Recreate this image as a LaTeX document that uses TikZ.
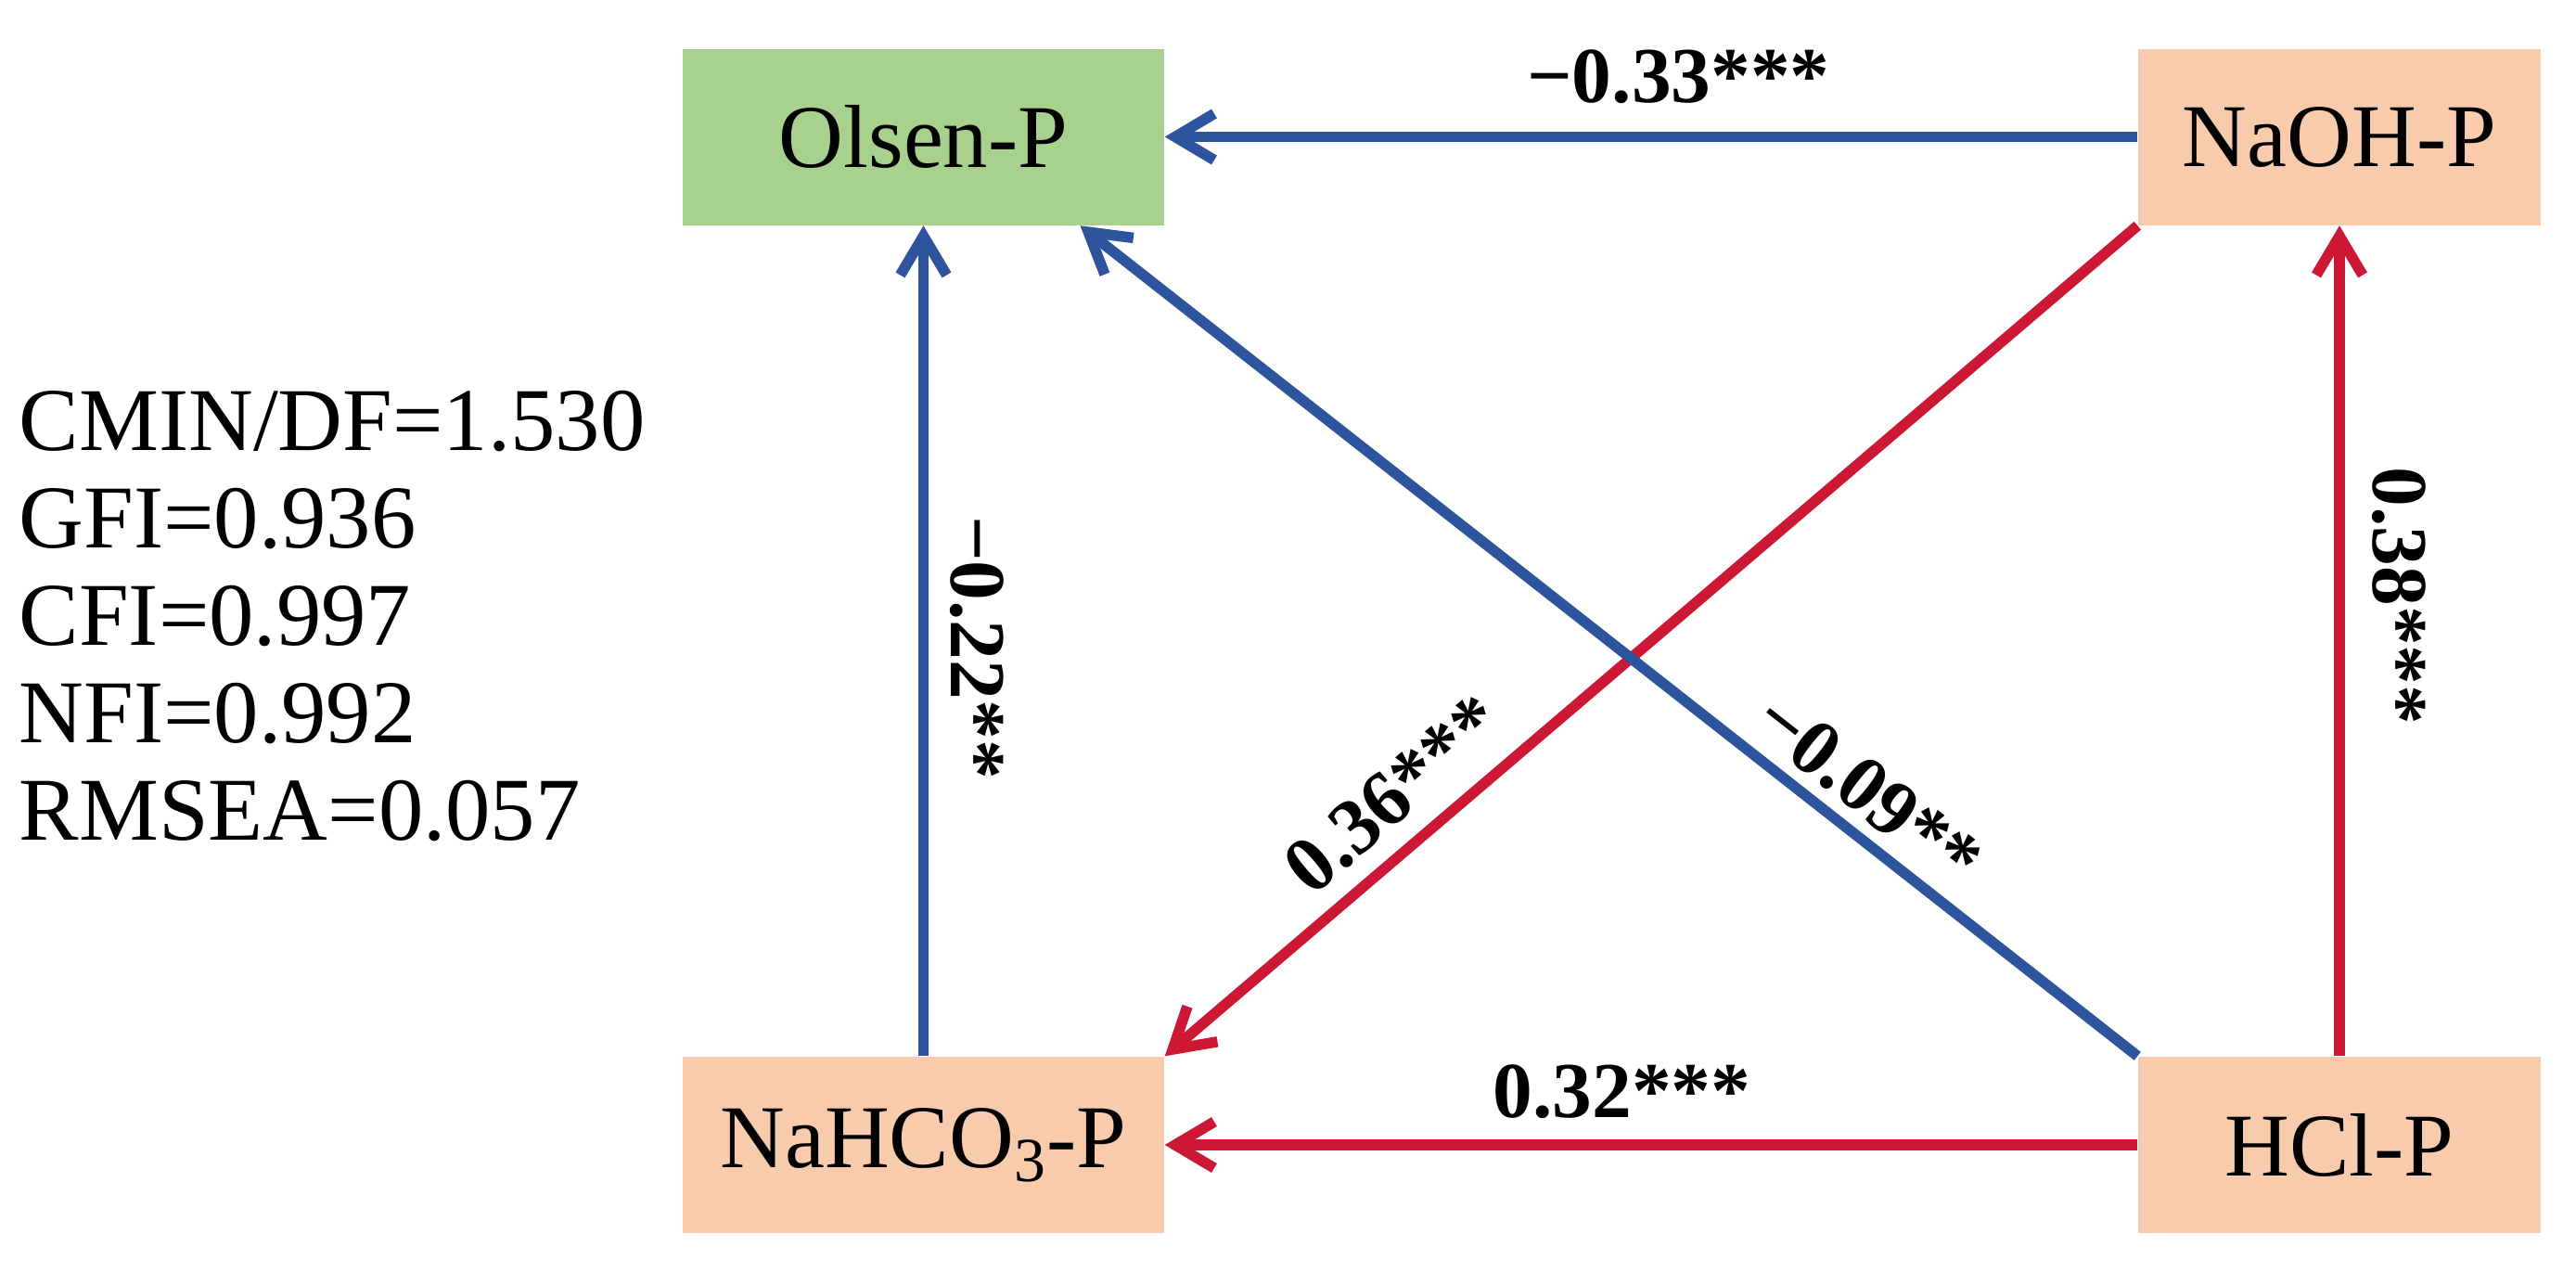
\documentclass[tikz,border=0pt]{standalone}
\usepackage{fontspec}
\setmainfont{Liberation Serif}
\usetikzlibrary{arrows.meta,calc}
\definecolor{cblue}{RGB}{46,84,158}
\definecolor{cred}{RGB}{204,24,52}
\definecolor{cgreen}{RGB}{169,209,142}
\definecolor{cpeach}{RGB}{248,203,173}
\tikzset{
 box/.style={rectangle, minimum height=1.90cm, inner sep=0pt, font=\fontsize{27.5}{33}\selectfont},
 bigbox/.style={box, minimum width=5.19cm},
 smallbox/.style={box, minimum width=4.34cm},
 conn/.style={line width=0.115cm, {Straight Barb[length=0.42cm,width=0.5cm]}-},
 bluec/.style={conn, draw=cblue},
 redc/.style={conn, draw=cred},
 coef/.style={font=\bfseries\fontsize{24.3}{29}\selectfont, text=black, sloped, allow upside down, above},
 fitline/.style={anchor=base west, inner sep=0pt, font=\fontsize{27.5}{33}\selectfont},
}
\begin{document}
\begin{tikzpicture}
\useasboundingbox (0,0) rectangle (27.77,-13.70);
\node[bigbox, fill=cgreen] (olsen) at (9.955,-1.475) {Olsen-P};
\node[smallbox, fill=cpeach] (naoh) at (25.22,-1.475) {NaOH-P};
\node[bigbox, fill=cpeach] (nahco) at (9.955,-12.34) {NaHCO\textsubscript{3}-P};
\node[smallbox, fill=cpeach] (hcl) at (25.22,-12.34) {HCl-P};
\coordinate (oT) at ([xshift=1.69cm]olsen.south);

\draw[bluec] (olsen.east) -- node[coef, pos=0.528, inner sep=0.3cm]{−0.33***} (naoh.west);
\draw[redc] (nahco.east) -- node[coef, pos=0.47, inner sep=0.23cm]{0.32***} (hcl.west);
\draw[bluec] (olsen.south) -- node[coef, pos=0.508, inner sep=0.23cm]{−0.22**} (nahco.north);
\draw[redc] (naoh.south) -- node[coef, pos=0.446, inner sep=0.3cm]{0.38***} (hcl.north);
\draw[redc] (nahco.north east) -- node[coef, pos=0.269, inner sep=0.2cm]{0.36***} (naoh.south west);
\draw[bluec] (oT) -- node[coef, pos=0.72, inner sep=0.12cm]{−0.09**} (hcl.north west);

\node[fitline] (f1) at (0.2,-4.85) {CMIN/DF=1.530};
\node[fitline] (f2) at (0.2,-5.90) {GFI=0.936};
\node[fitline] (f3) at (0.2,-6.95) {CFI=0.997};
\node[fitline] (f4) at (0.2,-8.00) {NFI=0.992};
\node[fitline] (f5) at (0.2,-9.05) {RMSEA=0.057};
\end{tikzpicture}
\end{document}
